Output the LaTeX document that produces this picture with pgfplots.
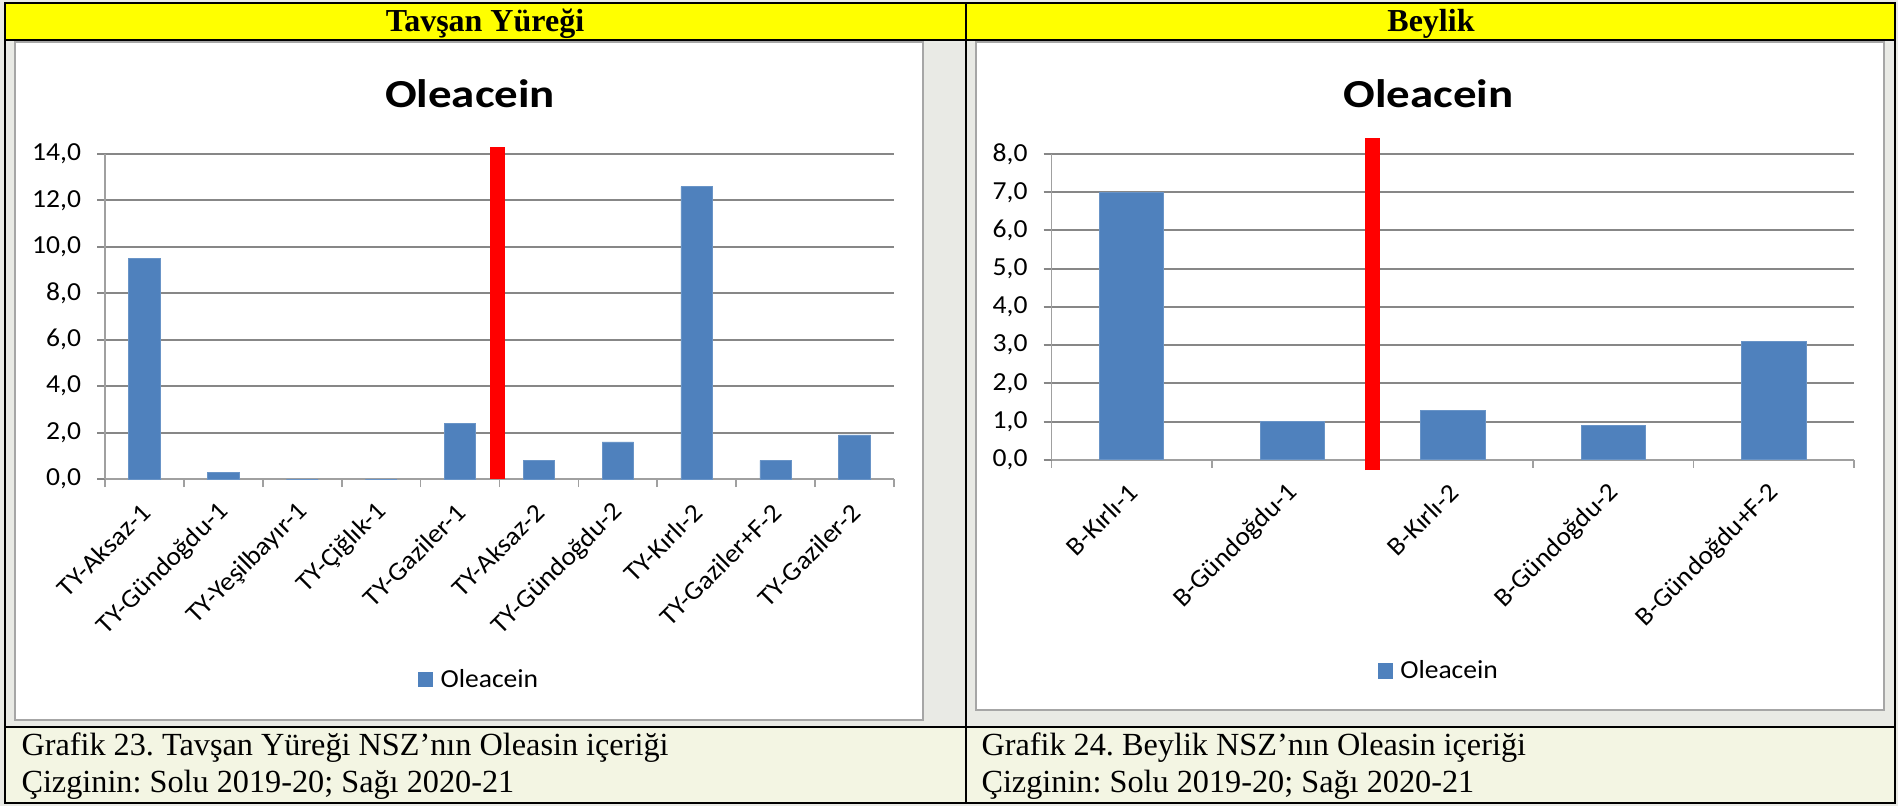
\documentclass[border=0pt]{standalone}
\usepackage{fontspec}
\setmainfont{Liberation Serif}
\newfontfamily\chartfont{Carlito}[FakeStretch=1.06]
\newfontfamily\titlefont{Carlito}[FakeStretch=1.18]
\usepackage{pgfplots}
\pgfplotsset{compat=1.18}
\frenchspacing

\definecolor{barblue}{HTML}{4F81BD}
\definecolor{gridgray}{HTML}{878787}
\definecolor{axisgray}{HTML}{A0A0A0}
\definecolor{headyellow}{HTML}{FFFF00}
\definecolor{bggray}{HTML}{E9EAE5}
\definecolor{capbg}{HTML}{F3F5E3}
\definecolor{boxgray}{HTML}{A6A6A6}

\newcommand{\chartsize}{\chartfont\fontsize{10.4}{12}\selectfont}

\pgfplotsset{
  olea/.style={
    scale only axis,
    clip=false,
    axis x line*=bottom,
    axis y line*=left,
    axis line style={axisgray, line width=0.7pt},
    tick align=outside,
    major tick length=3.2pt,
    minor tick length=3.2pt,
    major x tick style={draw=none},
    minor x tick style={axisgray, line width=0.7pt},
    major y tick style={gridgray, line width=0.8pt},
    ymajorgrids,
    major grid style={gridgray, line width=0.8pt},
    ymin=0,
    tick label style={font=\chartsize, text=black},
    yticklabel={\pgfmathprintnumber[fixed,fixed zerofill,precision=1,use comma,assume math mode=true]{\tick}},
    yticklabel style={anchor=east, inner sep=0pt, xshift=-6.2pt},
    xticklabel style={yshift=-8.2pt, xshift=0.6pt, rotate=45, anchor=east, inner sep=0pt},
    title style={font=\titlefont\bfseries\fontsize{15.9}{18}\selectfont, anchor=base, inner sep=0pt, yshift=-6pt},
    legend style={draw=none, fill=none, anchor=west, font=\chartsize,
      inner sep=0pt, nodes={inner sep=0pt},
      /tikz/every odd column/.append style={column sep=3pt}},
    legend image code/.code={\fill[barblue] (0pt,-2.7pt) rectangle (5.8pt,3.1pt);},
  },
  oleabar/.style={ybar, bar width=0.4, fill=barblue, draw=barblue!85!white, line width=0.3pt},
}

\begin{document}
\begin{tikzpicture}
\useasboundingbox (0,0) rectangle (759.2pt,-322.4pt);

% page background and table frame (units of 0.4pt, y downward)
\begin{scope}[x=0.4pt, y=-0.4pt]
  \fill[bggray] (0,0) rectangle (1898,806);
  \fill[headyellow] (5,3) rectangle (1895,40);
  \fill[capbg] (5,727) rectangle (1895,803);
  \filldraw[fill=white, draw=boxgray, line width=0.6pt] (15,42) rectangle (923,720);
  \filldraw[fill=white, draw=boxgray, line width=0.6pt] (976,42) rectangle (1884,710);
  \draw[black, line width=1pt] (5,3) rectangle (1895,803);
  \draw[black, line width=1pt] (5,40) -- (1895,40);
  \draw[black, line width=1pt] (5,727) -- (1895,727);
  \draw[black, line width=1pt] (966,3) -- (966,803);
\end{scope}

% Tavşan Yüreği
\begin{axis}[olea,
  at={(42pt,-191.6pt)}, anchor=south west,
  width=315.6pt, height=130pt,
  xmin=-0.5, xmax=9.5, ymax=14,
  ytick={0,2,...,14},
  xtick={0,...,9},
  minor xtick={-0.5,0.5,...,9.5},
  xticklabels={TY-Aksaz-1,TY-Gündoğdu-1,TY-Yeşilbayır-1,TY-Çiğlık-1,TY-Gaziler-1,TY-Aksaz-2,TY-Gündoğdu-2,TY-Kırlı-2,TY-Gaziler+F-2,TY-Gaziler-2},
  title={Oleacein},
  title style={at={(0.4626,1.1446)}},
  legend style={at={(0.3958,-0.6185)}},
]
\addplot[oleabar] coordinates {(0,9.5) (1,0.3) (2,0) (3,0) (4,2.4) (5,0.8) (6,1.6) (7,12.6) (8,0.8) (9,1.9)};
\addlegendentry{Oleacein}
\addplot[draw=red, line width=6pt, forget plot] coordinates {(4.47,0) (4.47,14.3)};
\end{axis}

% Beylik
\begin{axis}[olea,
  at={(420.6pt,-183.88pt)}, anchor=south west,
  width=321pt, height=122.28pt,
  xmin=-0.5, xmax=4.5, ymax=8,
  ytick={0,...,8},
  xtick={0,...,4},
  minor xtick={-0.5,0.5,...,4.5},
  xticklabels={B-Kırlı-1,B-Gündoğdu-1,B-Kırlı-2,B-Gündoğdu-2,B-Gündoğdu+F-2},
  title={Oleacein},
  title style={at={(0.470,1.1537)}},
  legend style={at={(0.4056,-0.692)}},
]
\addplot[oleabar] coordinates {(0,7.0) (1,1.0) (2,1.3) (3,0.9) (4,3.1)};
\addlegendentry{Oleacein}
\addplot[draw=red, line width=6pt, forget plot] coordinates {(1.5,-0.27) (1.5,8.42)};
\end{axis}

% header and caption text
\begin{scope}[x=0.4pt, y=-0.4pt]
  \node[anchor=base, inner sep=0pt, font=\bfseries\fontsize{12.8}{14}\selectfont] at (485,31.3) {Tavşan Yüreği};
  \node[anchor=base, inner sep=0pt, font=\bfseries\fontsize{12.8}{14}\selectfont] at (1431,31.7) {Beylik};
  \node[anchor=base west, inner sep=0pt, font=\fontsize{12.9}{15}\selectfont] at (21,755) {Grafik 23. Tavşan Yüreği NSZ’nın Oleasin içeriği};
  \node[anchor=base west, inner sep=0pt, font=\fontsize{12.9}{15}\selectfont] at (21,792) {Çizginin: Solu 2019-20; Sağı 2020-21};
  \node[anchor=base west, inner sep=0pt, font=\fontsize{12.9}{15}\selectfont] at (981,755) {Grafik 24. Beylik NSZ’nın Oleasin içeriği};
  \node[anchor=base west, inner sep=0pt, font=\fontsize{12.9}{15}\selectfont] at (981,792) {Çizginin: Solu 2019-20; Sağı 2020-21};
\end{scope}
\end{tikzpicture}
\end{document}
